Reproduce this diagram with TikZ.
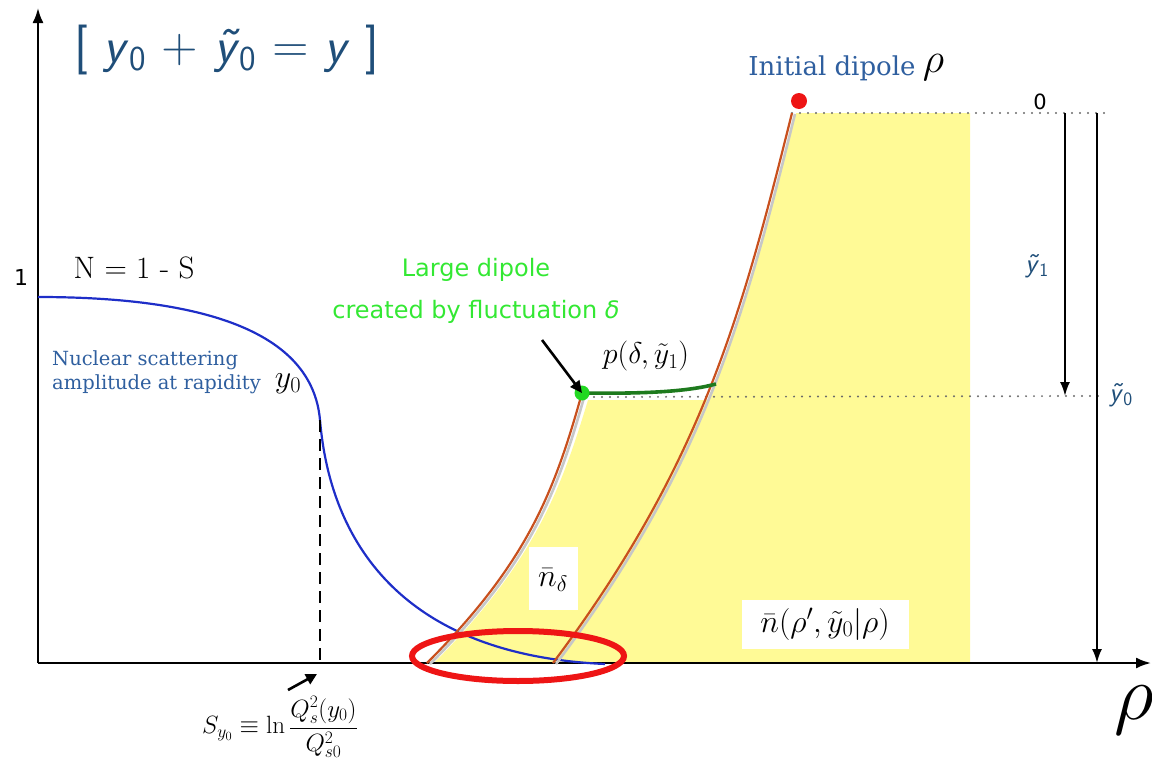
\RequirePackage{fix-cm}
\documentclass[tikz,border=0pt]{standalone}
\usepackage{fontspec}
\newfontfamily\serifdv{DejaVu Serif}
\newfontfamily\sansdv{DejaVu Sans}
\usetikzlibrary{arrows.meta, positioning}

% sans italic rapidities of the slide
\newcommand{\sfy}{\textit{y}}
\newcommand{\sfyt}{\textit{\~{y}}}
\newcommand{\fs}[1]{\fontsize{#1}{#1}\selectfont}

\begin{document}
\begin{tikzpicture}[x=1pt, y=-1pt]

% ---------------------------------------------------------------- colours
\definecolor{nblue}{HTML}{1E2EC8}   % nuclear amplitude N
\definecolor{orng}{HTML}{C8501E}    % dipole evolution fronts
\definecolor{lblue}{HTML}{2F5F9F}   % blue serif labels
\definecolor{tblue}{HTML}{1F4E79}   % title, rapidities
\definecolor{yel}{HTML}{FFFA96}
\definecolor{lgreen}{HTML}{33E833}
\definecolor{dgreen}{HTML}{1E7A1E}
\definecolor{gdot}{HTML}{22D822}
\definecolor{rring}{HTML}{EE1515}
\definecolor{dotgray}{HTML}{6A6A6A}

% ================================================================
% coordinates are the pixels of the slide, y pointing down
%   x axis at y = 663, y axis at x = 38
%   initial dipole at (792,113), fluctuation at (582,393)
%   yellow block closes at x = 970
% ================================================================
\def\ax{663}
\def\ay{38}
\def\ytop{113}
\def\ymid{396}
\def\xend{970}

\tikzset{
    axis/.style={draw=black, line width=2.2pt,
        -{Latex[length=15pt, width=11pt]}},
    ncurve/.style={draw=nblue, line width=2.2pt},
    front/.style={draw=orng, line width=2.2pt},
    frontshade/.style={draw=black!22, line width=2.6pt},
    dots/.style={draw=dotgray, line width=2.2pt, line cap=round,
        dash pattern=on 0pt off 8pt},
    marker/.style={draw=black, line width=2.6pt, dash pattern=on 12pt off 7pt},
    yarr/.style={draw=black, line width=2pt,
        -{Latex[length=14pt, width=10pt]}},
    pointer/.style={draw=black, line width=2.6pt,
        -{Triangle[length=11pt, width=11pt]}},
    whitebox/.style={fill=white, inner sep=0pt},
    bluelab/.style={text=lblue, font=\serifdv\fontsize{19.5}{24}\selectfont,
        align=left, anchor=west, inner sep=0pt},
    greenlab/.style={text=lgreen, font=\sansdv\fontsize{24}{42}\selectfont,
        align=center, inner sep=0pt},
}

\useasboundingbox (0,0) rectangle (1152,763);

% ================================================================ yellow area
\fill[yel] (\xend,\ytop) -- (\xend,\ax) -- (557,\ax)
    .. controls (707,463) and (746,313) .. (796,\ytop) -- cycle;
\fill[yel] (588,400) .. controls (560,493) and (533,563) .. (434,\ax)
    -- (700,\ax) -- (712,400) -- cycle;

% ================================================================ dotted levels
\coordinate (dip) at (792,\ytop);
\coordinate (fluc) at (582,393);
\draw[dots] (dip) -- (1110,\ytop);
\draw[dots] (fluc) ++(4,4) -- (1098,\ymid);

% ================================================================ axes
\coordinate (origin) at (\ay,\ax);
\draw[axis] (origin) -- (\ay,8);
\draw[axis] (origin) -- (1151,\ax);

% ================================================================ N = 1 - S
\coordinate (qs) at (320,420);
\draw[ncurve] (\ay,297) .. controls (200,297) and (312,330) .. (qs)
    .. controls (330,540) and (400,655) .. (605,664);
\draw[marker] (qs) -- (320,\ax);

% ================================================================ evolution fronts
\begin{scope}[shift={(3,1)}]
\draw[frontshade] (553,\ax) .. controls (703,463) and (742,313) .. (792,\ytop);
\draw[frontshade] (427,\ax) .. controls (527,563) and (554,493) .. (582,393);
\end{scope}
\draw[front] (553,\ax) .. controls (703,463) and (742,313) .. (dip);
\draw[front] (427,\ax) .. controls (527,563) and (554,493) .. (fluc);

% the fluctuation
\coordinate (pend) at (716,384);
\draw[dgreen, line width=3.6pt] (fluc) .. controls (650,394) and (690,391) .. (pend);
\fill[gdot] (fluc) circle[radius=7.5];
\fill[rring] (799,101) circle[radius=8];

% red ring round the overlap
\draw[rring, line width=6pt] (518,656) ellipse[x radius=106, y radius=25];

% ================================================================ right scale
\coordinate (t1) at (1065,\ytop);
\coordinate (b1) at (1065,\ymid);
\coordinate (t0) at (1097,\ytop);
\coordinate (b0) at (1097,\ax);
\draw[yarr] (t1) -- (b1);
\draw[yarr] (t0) -- (b0);

% ================================================================ labels
\node[text=tblue, font=\sffamily\fs{50}, inner sep=0pt] (title) at (227,50)
    {[ \sfy\textsubscript{0} + \sfyt\textsubscript{0} = \sfy\ ]};
\node[font=\sansdv\fs{22}, inner sep=0pt] (one) at (21,277) {1};
\node[font=\sansdv\fs{21}, inner sep=0pt] (zero) at (1040,102) {0};
\node[font=\fs{31}, inner sep=0pt] (nlab) at (134,268) {N = 1 - S};
\node[bluelab] (amp) at (52,372) {Nuclear scattering\\amplitude at rapidity};
\node[font=\fs{32}, inner sep=0pt] (yzero) at (288,384) {$y_0$};
\node[font=\fs{25}, inner sep=0pt] (sform) at (280,727)
    {$S_{y_0}\equiv\ln\displaystyle\frac{Q_s^2(y_0)}{Q_{s0}^2}$};
\coordinate (qtail) at (288,690);
\coordinate (qtip) at (317,674);
\draw[pointer] (qtail) -- (qtip);

\node[greenlab] (large) at (476,291)
    {Large dipole\\created by fluctuation \textit{δ}};
\coordinate (ltail) at (542,340);
\draw[draw=black, line width=2.6pt, -{Triangle[length=12pt, width=11pt]}]
    (ltail) -- (fluc);
\node[font=\fs{30}, inner sep=0pt] (pdy) at (646,356) {$p(\delta,\tilde y_1)$};

\node[text=lblue, font=\serifdv\fs{26}, inner sep=0pt] (init) at (832,68)
    {Initial dipole};
\node[font=\fs{42}, inner sep=0pt, right=7pt of init.east, anchor=west]
    (rho) {$\rho$};

\node[whitebox, minimum width=49, minimum height=63] (ndbox) at (553,578) {};
\node[font=\fs{32}, inner sep=0pt] (nd) at (553,580) {$\bar n_\delta$};
\node[whitebox, minimum width=167, minimum height=49] (nbox) at (825,624) {};
\node[font=\fs{32}, inner sep=0pt] (nbar) at (825,624)
    {$\bar n(\rho',\tilde y_0|\rho)$};

\node[text=tblue, font=\sffamily\fs{27}, inner sep=0pt] (yt1) at (1037,266)
    {\sfyt\textsubscript{1}};
\node[text=tblue, font=\sffamily\fs{27}, inner sep=0pt] (yt0) at (1121,395)
    {\sfyt\textsubscript{0}};
\node[font=\fs{78}, inner sep=0pt, anchor=west] (rhop) at (1114,698) {$\rho'$};

\end{tikzpicture}
\end{document}
